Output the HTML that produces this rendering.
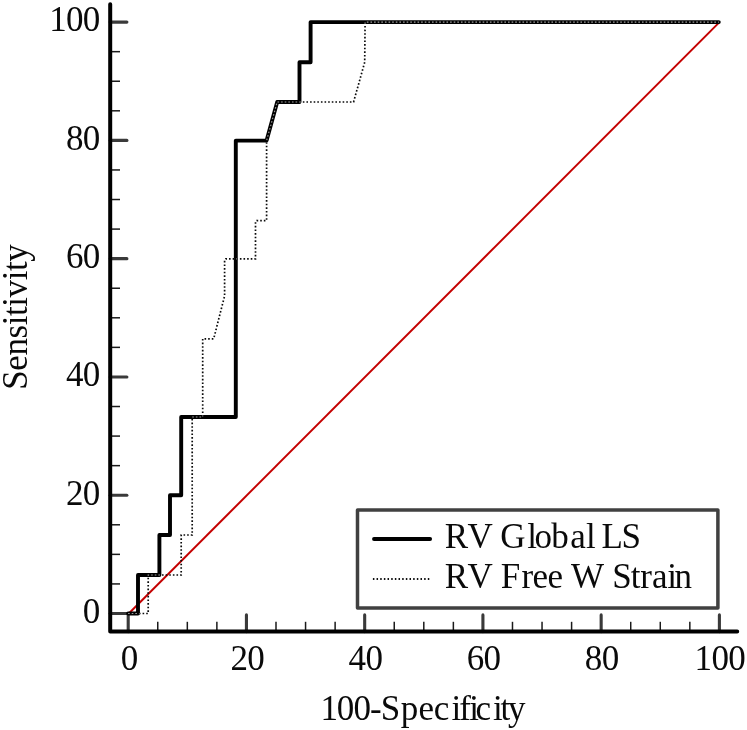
<!DOCTYPE html><html><head><meta charset="utf-8"><title>ROC</title><style>html,body{margin:0;padding:0;background:#fff}svg{display:block}text{font-family:"Liberation Serif","Times New Roman",serif;fill:#0a0a0a;font-kerning:none;font-variant-ligatures:none}</style></head><body>
<svg width="747" height="730" viewBox="0 0 747 730">
<rect width="747" height="730" fill="#fff"/>
<g><line x1="128.2" y1="631.6" x2="128.2" y2="614.9" stroke="#3a3a3a" stroke-width="3.1" stroke-linecap="round"/><line x1="110.2" y1="613.5" x2="126.9" y2="613.5" stroke="#3a3a3a" stroke-width="3.1" stroke-linecap="round"/><line x1="157.76" y1="631.6" x2="157.76" y2="621.8" stroke="#1a1a1a" stroke-width="1.5" stroke-linecap="butt"/><line x1="110.2" y1="583.93" x2="120.0" y2="583.93" stroke="#1a1a1a" stroke-width="1.5" stroke-linecap="butt"/><line x1="187.32" y1="631.6" x2="187.32" y2="621.8" stroke="#1a1a1a" stroke-width="1.5" stroke-linecap="butt"/><line x1="110.2" y1="554.36" x2="120.0" y2="554.36" stroke="#1a1a1a" stroke-width="1.5" stroke-linecap="butt"/><line x1="216.88" y1="631.6" x2="216.88" y2="621.8" stroke="#1a1a1a" stroke-width="1.5" stroke-linecap="butt"/><line x1="110.2" y1="524.79" x2="120.0" y2="524.79" stroke="#1a1a1a" stroke-width="1.5" stroke-linecap="butt"/><line x1="246.44" y1="631.6" x2="246.44" y2="614.9" stroke="#3a3a3a" stroke-width="3.1" stroke-linecap="round"/><line x1="110.2" y1="495.22" x2="126.9" y2="495.22" stroke="#3a3a3a" stroke-width="3.1" stroke-linecap="round"/><line x1="276.0" y1="631.6" x2="276.0" y2="621.8" stroke="#1a1a1a" stroke-width="1.5" stroke-linecap="butt"/><line x1="110.2" y1="465.65" x2="120.0" y2="465.65" stroke="#1a1a1a" stroke-width="1.5" stroke-linecap="butt"/><line x1="305.56" y1="631.6" x2="305.56" y2="621.8" stroke="#1a1a1a" stroke-width="1.5" stroke-linecap="butt"/><line x1="110.2" y1="436.08" x2="120.0" y2="436.08" stroke="#1a1a1a" stroke-width="1.5" stroke-linecap="butt"/><line x1="335.12" y1="631.6" x2="335.12" y2="621.8" stroke="#1a1a1a" stroke-width="1.5" stroke-linecap="butt"/><line x1="110.2" y1="406.51" x2="120.0" y2="406.51" stroke="#1a1a1a" stroke-width="1.5" stroke-linecap="butt"/><line x1="364.68" y1="631.6" x2="364.68" y2="614.9" stroke="#3a3a3a" stroke-width="3.1" stroke-linecap="round"/><line x1="110.2" y1="376.94" x2="126.9" y2="376.94" stroke="#3a3a3a" stroke-width="3.1" stroke-linecap="round"/><line x1="394.24" y1="631.6" x2="394.24" y2="621.8" stroke="#1a1a1a" stroke-width="1.5" stroke-linecap="butt"/><line x1="110.2" y1="347.37" x2="120.0" y2="347.37" stroke="#1a1a1a" stroke-width="1.5" stroke-linecap="butt"/><line x1="423.8" y1="631.6" x2="423.8" y2="621.8" stroke="#1a1a1a" stroke-width="1.5" stroke-linecap="butt"/><line x1="110.2" y1="317.8" x2="120.0" y2="317.8" stroke="#1a1a1a" stroke-width="1.5" stroke-linecap="butt"/><line x1="453.36" y1="631.6" x2="453.36" y2="621.8" stroke="#1a1a1a" stroke-width="1.5" stroke-linecap="butt"/><line x1="110.2" y1="288.23" x2="120.0" y2="288.23" stroke="#1a1a1a" stroke-width="1.5" stroke-linecap="butt"/><line x1="482.92" y1="631.6" x2="482.92" y2="614.9" stroke="#3a3a3a" stroke-width="3.1" stroke-linecap="round"/><line x1="110.2" y1="258.66" x2="126.9" y2="258.66" stroke="#3a3a3a" stroke-width="3.1" stroke-linecap="round"/><line x1="512.48" y1="631.6" x2="512.48" y2="621.8" stroke="#1a1a1a" stroke-width="1.5" stroke-linecap="butt"/><line x1="110.2" y1="229.09" x2="120.0" y2="229.09" stroke="#1a1a1a" stroke-width="1.5" stroke-linecap="butt"/><line x1="542.04" y1="631.6" x2="542.04" y2="621.8" stroke="#1a1a1a" stroke-width="1.5" stroke-linecap="butt"/><line x1="110.2" y1="199.52" x2="120.0" y2="199.52" stroke="#1a1a1a" stroke-width="1.5" stroke-linecap="butt"/><line x1="571.6" y1="631.6" x2="571.6" y2="621.8" stroke="#1a1a1a" stroke-width="1.5" stroke-linecap="butt"/><line x1="110.2" y1="169.95" x2="120.0" y2="169.95" stroke="#1a1a1a" stroke-width="1.5" stroke-linecap="butt"/><line x1="601.16" y1="631.6" x2="601.16" y2="614.9" stroke="#3a3a3a" stroke-width="3.1" stroke-linecap="round"/><line x1="110.2" y1="140.38" x2="126.9" y2="140.38" stroke="#3a3a3a" stroke-width="3.1" stroke-linecap="round"/><line x1="630.72" y1="631.6" x2="630.72" y2="621.8" stroke="#1a1a1a" stroke-width="1.5" stroke-linecap="butt"/><line x1="110.2" y1="110.81" x2="120.0" y2="110.81" stroke="#1a1a1a" stroke-width="1.5" stroke-linecap="butt"/><line x1="660.28" y1="631.6" x2="660.28" y2="621.8" stroke="#1a1a1a" stroke-width="1.5" stroke-linecap="butt"/><line x1="110.2" y1="81.24" x2="120.0" y2="81.24" stroke="#1a1a1a" stroke-width="1.5" stroke-linecap="butt"/><line x1="689.84" y1="631.6" x2="689.84" y2="621.8" stroke="#1a1a1a" stroke-width="1.5" stroke-linecap="butt"/><line x1="110.2" y1="51.67" x2="120.0" y2="51.67" stroke="#1a1a1a" stroke-width="1.5" stroke-linecap="butt"/><line x1="719.4" y1="631.6" x2="719.4" y2="614.9" stroke="#3a3a3a" stroke-width="3.1" stroke-linecap="round"/><line x1="110.2" y1="22.1" x2="126.9" y2="22.1" stroke="#3a3a3a" stroke-width="3.1" stroke-linecap="round"/></g>
<line x1="128.79999999999998" y1="613.5" x2="719.5" y2="22.1" stroke="#c40000" stroke-width="2"/>
<polyline points="128.1,613.5 138,613.5 138,575 159.4,575 159.4,535 170,535 170,495.2 181.2,495.2 181.2,417 235.8,417 235.8,140.6 266.6,140.6 277.2,102 299.5,102 299.5,62.2 310.6,62.2 310.6,22.1 718.8,22.1" fill="none" stroke="#000" stroke-width="3.9" stroke-linejoin="round" stroke-linecap="round"/>
<polyline points="128.1,613.5 148.2,613.5 148.2,575 181.2,575 181.2,535 192.2,535 192.2,417 202.7,417 202.7,338.8 213.7,338.8 224.6,296 224.6,260.2 225.8,258.9 255.5,258.9 255.5,221.8 256.7,220.6 266.6,220.6 266.6,140.6 277.2,102 353.6,102 364.7,62.2 365.1,22.1 718.8,22.1" fill="none" stroke="#0a0a0a" stroke-width="1.7" stroke-dasharray="1.6 2.02"/>
<mask id="bm" maskUnits="userSpaceOnUse" x="0" y="0" width="747" height="730"><polyline points="128.1,613.5 138,613.5 138,575 159.4,575 159.4,535 170,535 170,495.2 181.2,495.2 181.2,417 235.8,417 235.8,140.6 266.6,140.6 277.2,102 299.5,102 299.5,62.2 310.6,62.2 310.6,22.1 718.8,22.1" fill="none" stroke="#fff" stroke-width="3.2" stroke-linejoin="round" stroke-linecap="round"/></mask>
<polyline points="128.1,613.5 148.2,613.5 148.2,575 181.2,575 181.2,535 192.2,535 192.2,417 202.7,417 202.7,338.8 213.7,338.8 224.6,296 224.6,260.2 225.8,258.9 255.5,258.9 255.5,221.8 256.7,220.6 266.6,220.6 266.6,140.6 277.2,102 353.6,102 364.7,62.2 365.1,22.1 718.8,22.1" fill="none" stroke="#9a9a9a" stroke-width="1.15" stroke-dasharray="1.6 2.02" mask="url(#bm)"/>
<path d="M110.2 4.2 V631.6 H737.2" fill="none" stroke="#000" stroke-width="4" stroke-linecap="round" stroke-linejoin="round"/>
<text x="120.70" y="669.7" font-size="35">0</text>
<text x="82.80" y="622.8" font-size="35">0</text>
<text x="230.44 247.24" y="669.7" font-size="35">20</text>
<text x="66.00 82.80" y="504.5" font-size="35">20</text>
<text x="348.58 365.38" y="669.7" font-size="35">40</text>
<text x="66.00 82.80" y="386.2" font-size="35">40</text>
<text x="466.72 483.52" y="669.7" font-size="35">60</text>
<text x="66.00 82.80" y="268.0" font-size="35">60</text>
<text x="584.86 601.66" y="669.7" font-size="35">80</text>
<text x="66.00 82.80" y="149.7" font-size="35">80</text>
<text x="694.60 711.40 728.20" y="669.7" font-size="35">100</text>
<text x="49.30 66.00 82.80" y="31.4" font-size="35">100</text>
<text x="320.60 336.80 353.60 370.00 380.80 400.70 418.40 433.70 451.60 459.20 469.20 475.50 493.00 500.50 508.10" y="720.3" font-size="35">100-Specificity</text>
<text transform="translate(26.9,317.0) rotate(-90)" font-size="35" text-anchor="middle" textLength="145.5" lengthAdjust="spacing">Sensitivity</text>
<rect x="357.5" y="510.1" width="360.4" height="98" fill="#fff" stroke="#404040" stroke-width="3.5" stroke-linejoin="round"/>
<line x1="374" y1="539" x2="430.1" y2="539" stroke="#000" stroke-width="3.9" stroke-linecap="round"/>
<line x1="372.9" y1="579" x2="430.5" y2="579" stroke="#111" stroke-width="2" stroke-dasharray="1.5 2.16"/>
<text x="444.80 467.55 492.00 500.30 527.25 534.40 551.20 570.20 586.10 594.00 601.50 621.45" y="548.0" font-size="35">RV Global LS</text>
<text x="444.80 467.55 492.00 500.70 521.40 532.40 547.50 563.00 570.90 604.00 612.20 630.70 640.30 652.00 667.15 674.60" y="587.8" font-size="35">RV Free W Strain</text>
</svg></body></html>
